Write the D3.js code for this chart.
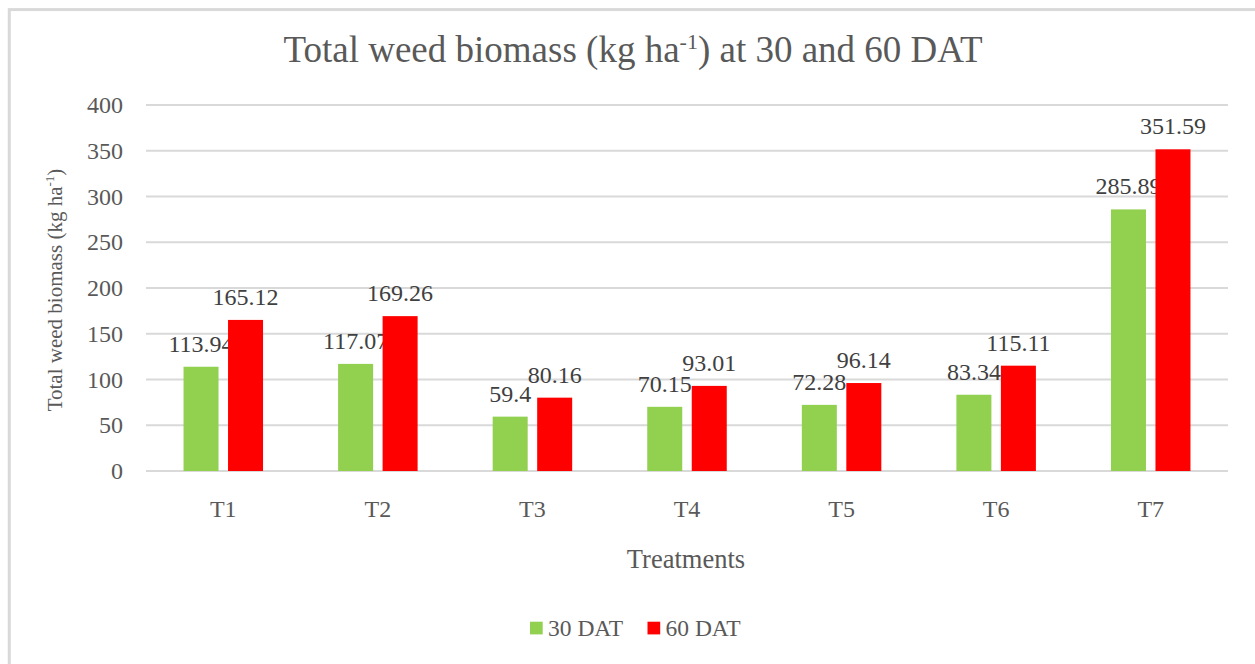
<!DOCTYPE html>
<html>
<head>
<meta charset="utf-8">
<script src="https://cdn.jsdelivr.net/npm/d3@7"></script>
<style>
  body { margin: 0; background: #fff; }
</style>
</head>
<body>
<script>
//chart data
var treatments = ["T1", "T2", "T3", "T4", "T5", "T6", "T7"];
var dat30 = [113.94, 117.07, 59.4, 70.15, 72.28, 83.34, 285.89];
var dat60 = [165.12, 169.26, 80.16, 93.01, 96.14, 115.11, 351.59];
var seriesNames = ["30 DAT", "60 DAT"];
var seriesColors = ["#92d050", "#ff0000"];
var yTicks = [0, 50, 100, 150, 200, 250, 300, 350, 400];

var width = 1255, height = 664;
var plot = {left: 146, right: 1228, top: 105, bottom: 471};
var serif = "'Liberation Serif', 'Times New Roman', Times, serif";

var svg = d3.select("body").append("svg")
    .attr("width", width)
    .attr("height", height)
    .style("font-family", serif);

//outer frame (right and bottom edges fall outside the picture)
svg.append("rect")
    .attr("x", 9.3).attr("y", 9.6)
    .attr("width", 1270).attr("height", 680)
    .attr("fill", "none")
    .attr("stroke", "#d9d9d9")
    .attr("stroke-width", 3);

var x = d3.scaleBand()
    .domain(treatments)
    .range([plot.left, plot.right]);

var y = d3.scaleLinear()
    .domain([0, 400])
    .range([plot.bottom, plot.top]);

//gridlines
svg.selectAll(".grid")
    .data(yTicks)
    .enter()
    .append("line")
    .attr("class", "grid")
    .attr("x1", plot.left).attr("x2", plot.right)
    .attr("y1", function(d){ return y(d); })
    .attr("y2", function(d){ return y(d); })
    .attr("stroke", "#d9d9d9")
    .attr("stroke-width", 2);

//y tick labels
svg.selectAll(".ytick")
    .data(yTicks)
    .enter()
    .append("text")
    .attr("x", 123)
    .attr("y", function(d){ return y(d) + 8; })
    .attr("text-anchor", "end")
    .style("font-size", "24px")
    .attr("fill", "#595959")
    .text(function(d){ return d; });

//x tick labels
svg.selectAll(".xtick")
    .data(treatments)
    .enter()
    .append("text")
    .attr("x", function(d){ return x(d) + x.bandwidth() / 2; })
    .attr("y", 517)
    .attr("text-anchor", "middle")
    .style("font-size", "24px")
    .attr("fill", "#595959")
    .text(function(d){ return d; });

//bars and value labels
var barW = 35, gap = 9.5;
var series = [dat30, dat60];
series.forEach(function(vals, s){
    var offset = s === 0 ? -gap / 2 - barW : gap / 2;
    svg.selectAll(".bar" + s)
        .data(vals)
        .enter()
        .append("rect")
        .attr("x", function(d, i){ return x(treatments[i]) + x.bandwidth() / 2 + offset; })
        .attr("y", function(d){ return y(d); })
        .attr("width", barW)
        .attr("height", function(d){ return y(0) - y(d); })
        .attr("fill", seriesColors[s]);

    svg.selectAll(".lab" + s)
        .data(vals)
        .enter()
        .append("text")
        .attr("x", function(d, i){ return x(treatments[i]) + x.bandwidth() / 2 + offset + barW / 2; })
        .attr("y", function(d){ return y(d) - 15; })
        .attr("text-anchor", "middle")
        .style("font-size", "24px")
        .attr("fill", "#404040")
        .text(function(d){ return d; });
});

//title
var title = svg.append("text")
    .attr("x", 633).attr("y", 62)
    .attr("text-anchor", "middle")
    .style("font-size", "37px")
    .attr("fill", "#595959");
title.append("tspan").text("Total weed biomass (kg ha");
title.append("tspan").attr("dy", -13).style("font-size", "22px").text("-1");
title.append("tspan").attr("dy", 13).text(") at 30 and 60 DAT");

//y axis label
var yLab = svg.append("text")
    .attr("transform", "translate(62,290) rotate(-90)")
    .attr("text-anchor", "middle")
    .style("font-size", "21px")
    .attr("fill", "#595959");
yLab.append("tspan").text("Total weed biomass  (kg ha");
yLab.append("tspan").attr("dy", -8).style("font-size", "13px").text("-1");
yLab.append("tspan").attr("dy", 8).text(")");

//x axis label
svg.append("text")
    .attr("x", 686).attr("y", 568)
    .attr("text-anchor", "middle")
    .style("font-size", "26.5px")
    .attr("fill", "#595959")
    .text("Treatments");

//legend
var legendX = [530, 647.5];
seriesNames.forEach(function(name, i){
    svg.append("rect")
        .attr("x", legendX[i]).attr("y", 621.7)
        .attr("width", 12.7).attr("height", 12.7)
        .attr("fill", seriesColors[i]);
    svg.append("text")
        .attr("x", legendX[i] + 18).attr("y", 636)
        .style("font-size", "23.5px")
        .attr("fill", "#595959")
        .text(name);
});
</script>
</body>
</html>
